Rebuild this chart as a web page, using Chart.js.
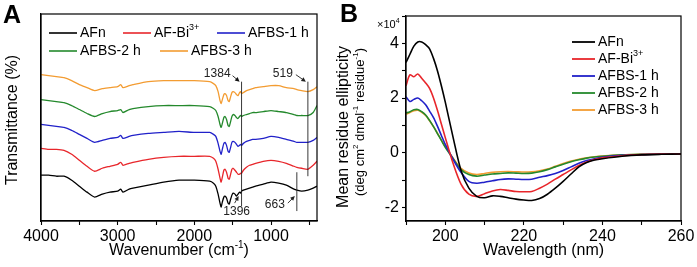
<!DOCTYPE html>
<html>
<head>
<meta charset="utf-8">
<script src="https://cdn.jsdelivr.net/npm/chart.js@4.4.1/dist/chart.umd.min.js"></script>
<style>
  html, body { margin: 0; padding: 0; background: #fff; }
  #wrap { position: relative; width: 697px; height: 267px; overflow: hidden; }
  canvas { position: absolute; top: 0; }
  #ftir { left: 0; width: 335px; height: 267px; }
  #cd { left: 335px; width: 362px; height: 267px; }
</style>
</head>
<body>
<div id="wrap">
  <canvas id="ftir" width="335" height="267"></canvas>
  <canvas id="cd" width="362" height="267"></canvas>
</div>
<script>
// sample names / colours shared by both panels
const sampleNames = ['AFn', 'AF-Bi³⁺', 'AFBS-1 h', 'AFBS-2 h', 'AFBS-3 h'];
const sampleColors = ['#000000', '#e8262b', '#2121c9', '#24892c', '#f39c32'];

// A: FTIR, stacked traces (arbitrary transmittance units)
const wavenumbers = [4000, 3900, 3800, 3700, 3600, 3500, 3400, 3300, 3200, 3100,
  3000, 2960, 2930, 2850, 2800, 2600, 2400, 2200, 2000,
  1800, 1750, 1720, 1690, 1665, 1650, 1635, 1615, 1600, 1580, 1560, 1545, 1530, 1510, 1495,
  1470, 1450, 1430, 1410, 1396, 1384, 1360, 1320, 1280, 1240,
  1200, 1100, 1000, 900, 800, 700, 663, 600, 519, 450, 400];
const ftirAFn = [46, 46, 45, 45, 41, 35, 29, 24, 27, 29,
  30, 32, 29, 32, 33, 36, 39, 41, 41,
  40, 38, 35, 27, 18, 14, 19, 24, 25, 23, 18, 17, 21, 26, 28,
  27, 25, 27, 29, 28, 30, 31, 32, 33, 34,
  35, 37, 39, 38, 36, 32, 31, 30, 31, 33, 35];
const ftirAFBi = [73, 72, 72, 71, 67, 61, 55, 50, 53, 55,
  57, 59, 56, 58, 59, 62, 64, 65, 65,
  65, 63, 60, 52, 43, 39, 44, 51, 52, 49, 43, 42, 46, 52, 53,
  51, 49, 47, 47, 48, 48, 51, 54, 56, 57,
  58, 60, 61, 60, 58, 55, 54, 53, 52, 56, 60];
const ftirAFBS1 = [97, 96, 95, 94, 91, 87, 83, 79, 81, 83,
  84, 86, 83, 85, 86, 88, 89, 90, 89,
  89, 87, 85, 78, 70, 67, 72, 78, 79, 76, 70, 69, 73, 79, 80,
  79, 77, 75, 76, 77, 76, 78, 80, 81, 82,
  82, 83, 85, 84, 82, 80, 79, 79, 79, 81, 84];
const ftirAFBS2 = [122, 121, 120, 119, 116, 112, 108, 105, 108, 110,
  111, 112, 109, 112, 113, 115, 116, 116, 116,
  115, 113, 111, 105, 97, 94, 98, 104, 105, 102, 96, 95, 99, 105, 107,
  106, 104, 103, 105, 106, 105, 106, 107, 108, 109,
  109, 110, 111, 110, 109, 107, 106, 106, 106, 109, 116];
const ftirAFBS3 = [147, 146, 145, 144, 141, 137, 134, 131, 133, 134,
  135, 137, 134, 136, 137, 140, 141, 141, 141,
  140, 138, 136, 130, 121, 118, 122, 127, 128, 126, 121, 120, 124, 129, 130,
  129, 127, 126, 129, 130, 128, 129, 131, 132, 133,
  134, 135, 136, 136, 134, 133, 132, 131, 130, 132, 135];
const ftirTicks = [4000, 3000, 2000, 1000];
const ftirMinor = [4000, 3500, 3000, 2500, 2000, 1500, 1000, 500];

// B: CD spectra, in units of 10^4 deg cm2 dmol-1 residue-1
const wavelengths = [190, 191, 192, 193, 194, 195, 196, 197, 198, 199, 200,
  202, 204, 206, 208, 210, 212, 214, 216, 218, 220, 222, 224, 226, 228, 230, 232, 234, 236, 238, 240,
  245, 250, 255, 260];
const cdAFn = [3.3, 3.6, 3.9, 4.05, 4.05, 3.95, 3.8, 3.45, 3.0, 2.45, 1.85,
  0.55, -0.65, -1.3, -1.6, -1.65, -1.58, -1.6, -1.65, -1.7, -1.73, -1.75, -1.68, -1.52, -1.3, -1.05, -0.78, -0.52, -0.36, -0.27, -0.22,
  -0.13, -0.08, -0.06, -0.05];
const cdAFBi = [2.45, 2.85, 2.78, 2.88, 2.72, 2.55, 2.35, 2.0, 1.55, 1.05, 0.55,
  -0.4, -1.15, -1.52, -1.6, -1.5, -1.4, -1.35, -1.38, -1.42, -1.43, -1.42, -1.3, -1.15, -0.97, -0.8, -0.63, -0.47, -0.34, -0.25, -0.19,
  -0.11, -0.07, -0.05, -0.05];
const cdAFBS1 = [2.05, 1.87, 1.95, 2.0, 1.9, 1.75, 1.52, 1.28, 0.97, 0.63, 0.3,
  -0.25, -0.72, -1.05, -1.12, -1.08, -1.03, -0.98, -0.96, -0.97, -0.98, -0.97, -0.9, -0.84, -0.76, -0.65, -0.52, -0.39, -0.29, -0.22, -0.17,
  -0.1, -0.07, -0.05, -0.05];
const cdAFBS2 = [1.45, 1.5, 1.57, 1.58, 1.5, 1.38, 1.18, 0.95, 0.7, 0.45, 0.2,
  -0.22, -0.62, -0.8, -0.86, -0.82, -0.78, -0.76, -0.74, -0.75, -0.76, -0.75, -0.7, -0.62, -0.52, -0.42, -0.33, -0.26, -0.2, -0.16, -0.13,
  -0.08, -0.06, -0.05, -0.04];
const cdAFBS3 = [1.4, 1.47, 1.53, 1.55, 1.48, 1.36, 1.17, 0.95, 0.71, 0.46, 0.22,
  -0.2, -0.57, -0.74, -0.8, -0.76, -0.72, -0.7, -0.69, -0.7, -0.71, -0.7, -0.66, -0.6, -0.5, -0.4, -0.31, -0.24, -0.19, -0.15, -0.12,
  -0.08, -0.06, -0.05, -0.04];
const cdTicks = [-2, 0, 2, 4];
const cdMinor = [-2, -1, 0, 1, 2, 3, 4, 5];
const cdWaveTicks = [200, 220, 240, 260];
const cdWaveMinor = [190, 200, 210, 220, 230, 240, 250, 260];

// marked bands in A
const markLines = [
  { wn: 1384, from: 140, to: 15 },
  { wn: 519, from: 140, to: 45 },
  { wn: 663, from: 49, to: 10 }
];
const notes = [
  { text: '1384', wn: 1384, v: 140, tail: [-9, -6], label: [-11, -8], align: 'right' },
  { text: '519', wn: 519, v: 140, tail: [-12, -7], label: [-15, -8], align: 'right' },
  { text: '663', wn: 663, v: 25, tail: [-9, 7], label: [-12, 9], align: 'right' },
  { text: '1396', wn: 1396, v: 25, tail: [-6, 7], label: [-4, 16], align: 'center' }
];

const FAMILY = '"Liberation Sans", Arial, Helvetica, sans-serif';
Chart.defaults.font.family = FAMILY;
Chart.defaults.color = '#000';

const SUP = { '⁰': '0', '¹': '1', '²': '2', '³': '3', '⁴': '4', '⁺': '+', '⁻': '-' };

// text with superscript parts, drawn as real text runs
function drawRich(ctx, text, x, y, size, align, weight) {
  const runs = [];
  for (const ch of text) {
    const sup = ch in SUP;
    const c = sup ? SUP[ch] : ch;
    const last = runs[runs.length - 1];
    if (last && last.sup === sup) last.t += c; else runs.push({ t: c, sup });
  }
  const fontOf = r => `${weight || 'normal'} ${r.sup ? Math.round(size * 0.62) : size}px ${FAMILY}`;
  let w = 0;
  runs.forEach(r => { ctx.font = fontOf(r); w += ctx.measureText(r.t).width; });
  let cx = align === 'center' ? x - w / 2 : align === 'right' ? x - w : x;
  ctx.textAlign = 'left';
  ctx.textBaseline = 'middle';
  runs.forEach(r => {
    ctx.font = fontOf(r);
    ctx.fillText(r.t, cx, r.sup ? y - size * 0.36 : y);
    cx += ctx.measureText(r.t).width;
  });
}

function arrow(ctx, x0, y0, x1, y1) {
  const a = Math.atan2(y1 - y0, x1 - x0);
  ctx.beginPath(); ctx.moveTo(x0, y0); ctx.lineTo(x1 - 2 * Math.cos(a), y1 - 2 * Math.sin(a)); ctx.stroke();
  ctx.beginPath();
  ctx.moveTo(x1, y1);
  ctx.lineTo(x1 - 4.5 * Math.cos(a) + 2.2 * Math.sin(a), y1 - 4.5 * Math.sin(a) - 2.2 * Math.cos(a));
  ctx.lineTo(x1 - 4.5 * Math.cos(a) - 2.2 * Math.sin(a), y1 - 4.5 * Math.sin(a) + 2.2 * Math.cos(a));
  ctx.closePath(); ctx.fill();
}

const frame = {
  id: 'frame',
  afterDraw(chart) {
    const { ctx, chartArea: a } = chart;
    ctx.save();
    ctx.strokeStyle = '#000'; ctx.lineWidth = 1.2;
    ctx.strokeRect(a.left, a.top, a.right - a.left, a.bottom - a.top);
    ctx.restore();
  }
};

function series(xs, ys) { return xs.map((x, i) => ({ x, y: ys[i] })); }

function lineSet(i, xs, ys, width, tension) {
  return {
    label: sampleNames[i], data: series(xs, ys), borderColor: sampleColors[i],
    borderWidth: width, pointRadius: 0, tension, fill: false
  };
}

// ---------- A: FTIR ----------
const ftirDecor = {
  id: 'ftirDecor',
  afterDraw(chart) {
    const { ctx, scales: { x, y } } = chart;
    ctx.save();
    ctx.strokeStyle = '#222'; ctx.fillStyle = '#111'; ctx.lineWidth = 0.9;
    markLines.forEach(m => {
      const px = x.getPixelForValue(m.wn);
      ctx.beginPath(); ctx.moveTo(px, y.getPixelForValue(m.from)); ctx.lineTo(px, y.getPixelForValue(m.to)); ctx.stroke();
    });
    notes.forEach(n => {
      const px = x.getPixelForValue(n.wn), py = y.getPixelForValue(n.v);
      arrow(ctx, px + n.tail[0], py + n.tail[1], px - 2, py);
      ctx.fillStyle = '#222';
      drawRich(ctx, n.text, px + n.label[0], py + n.label[1], 12, n.align);
    });
    // legend, two rows
    const slots = [[49, 33], [123, 33], [217, 33], [49, 51], [160, 51]];
    ctx.lineWidth = 1.6;
    slots.forEach(([lx, ly], i) => {
      ctx.strokeStyle = sampleColors[i];
      ctx.beginPath(); ctx.moveTo(lx, ly); ctx.lineTo(lx + 28, ly); ctx.stroke();
      ctx.fillStyle = '#000';
      drawRich(ctx, sampleNames[i], lx + 31, ly, 14, 'left');
    });
    // titles
    ctx.fillStyle = '#000';
    drawRich(ctx, 'Wavenumber (cm⁻¹)', (chart.chartArea.left + chart.chartArea.right) / 2, 251, 16, 'center');
    ctx.save();
    ctx.translate(13, 120); ctx.rotate(-Math.PI / 2);
    drawRich(ctx, 'Transmittance (%)', 0, 0, 16, 'center');
    ctx.restore();
    drawRich(ctx, 'A', 3, 16, 25, 'left', 'bold');
    ctx.restore();
  }
};

new Chart(document.getElementById('ftir'), {
  type: 'line',
  data: {
    datasets: [
      lineSet(0, wavenumbers, ftirAFn, 1.3, 0.2),
      lineSet(1, wavenumbers, ftirAFBi, 1.3, 0.2),
      lineSet(2, wavenumbers, ftirAFBS1, 1.3, 0.2),
      lineSet(3, wavenumbers, ftirAFBS2, 1.3, 0.2),
      lineSet(4, wavenumbers, ftirAFBS3, 1.3, 0.2)
    ]
  },
  options: {
    responsive: false, animation: false, devicePixelRatio: 1,
    layout: { padding: { top: 14, right: 18, left: 0, bottom: 0 } },
    plugins: { legend: { display: false }, tooltip: { enabled: false } },
    scales: {
      x: {
        type: 'linear', reverse: true, min: 400, max: 4000,
        afterBuildTicks: s => { s.ticks = ftirMinor.map(v => ({ value: v })); },
        afterFit: s => { s.height = 46; },
        ticks: {
          autoSkip: false, maxRotation: 0, padding: 2, font: { size: 16 },
          callback: v => ftirTicks.includes(v) ? String(v) : ''
        },
        grid: { drawOnChartArea: false, tickLength: 4, tickColor: '#000', tickWidth: 1.1 },
        border: { display: true, color: '#000', width: 1.2 }
      },
      y: {
        min: 0, max: 208,
        afterFit: s => { s.width = 41; },
        ticks: { display: false },
        grid: { display: false },
        border: { display: true, color: '#000', width: 1.2 }
      }
    }
  },
  plugins: [frame, ftirDecor]
});

// ---------- B: CD ----------
const cdDecor = {
  id: 'cdDecor',
  afterDraw(chart) {
    const { ctx } = chart;
    ctx.save();
    ctx.lineWidth = 1.8;
    sampleNames.forEach((name, i) => {
      const ly = 42 + i * 17;
      ctx.strokeStyle = sampleColors[i];
      ctx.beginPath(); ctx.moveTo(237, ly); ctx.lineTo(260, ly); ctx.stroke();
      ctx.fillStyle = '#000';
      drawRich(ctx, name, 263, ly, 14, 'left');
    });
    ctx.fillStyle = '#000';
    drawRich(ctx, 'Wavelength (nm)', (chart.chartArea.left + chart.chartArea.right) / 2, 251, 16, 'center');
    drawRich(ctx, '×10⁴', 42, 25, 11, 'left');
    ctx.save();
    ctx.translate(9, 127); ctx.rotate(-Math.PI / 2);
    drawRich(ctx, 'Mean residue ellipticity', 0, 0, 16, 'center');
    ctx.restore();
    ctx.save();
    ctx.translate(25, 122); ctx.rotate(-Math.PI / 2);
    drawRich(ctx, '(deg cm² dmol⁻¹ residue⁻¹)', 0, 0, 13, 'center');
    ctx.restore();
    drawRich(ctx, 'B', 5, 15, 25, 'left', 'bold');
    ctx.restore();
  }
};

new Chart(document.getElementById('cd'), {
  type: 'line',
  data: {
    datasets: [
      lineSet(0, wavelengths, cdAFn, 1.6, 0.3),
      lineSet(1, wavelengths, cdAFBi, 1.6, 0.3),
      lineSet(2, wavelengths, cdAFBS1, 1.6, 0.3),
      lineSet(3, wavelengths, cdAFBS2, 1.6, 0.3),
      lineSet(4, wavelengths, cdAFBS3, 1.6, 0.3)
    ]
  },
  options: {
    responsive: false, animation: false, devicePixelRatio: 1,
    layout: { padding: { top: 16, right: 16, left: 0, bottom: 0 } },
    plugins: { legend: { display: false }, tooltip: { enabled: false } },
    scales: {
      x: {
        type: 'linear', min: 190, max: 260,
        afterBuildTicks: s => { s.ticks = cdWaveMinor.map(v => ({ value: v })); },
        afterFit: s => { s.height = 46; },
        ticks: {
          autoSkip: false, maxRotation: 0, padding: 2, font: { size: 16 },
          callback: v => cdWaveTicks.includes(v) ? String(v) : ''
        },
        grid: { drawOnChartArea: false, tickLength: 4, tickColor: '#000', tickWidth: 1.1 },
        border: { display: true, color: '#000', width: 1.2 }
      },
      y: {
        min: -2.5, max: 5,
        afterBuildTicks: s => { s.ticks = cdMinor.map(v => ({ value: v })); },
        afterFit: s => { s.width = 71; },
        ticks: {
          autoSkip: false, padding: 3, font: { size: 16 },
          callback: v => cdTicks.includes(v) ? String(v) : ''
        },
        grid: { drawOnChartArea: false, tickLength: 4, tickColor: '#000', tickWidth: 1.1 },
        border: { display: true, color: '#000', width: 1.2 }
      }
    }
  },
  plugins: [frame, cdDecor]
});
</script>
</body>
</html>
